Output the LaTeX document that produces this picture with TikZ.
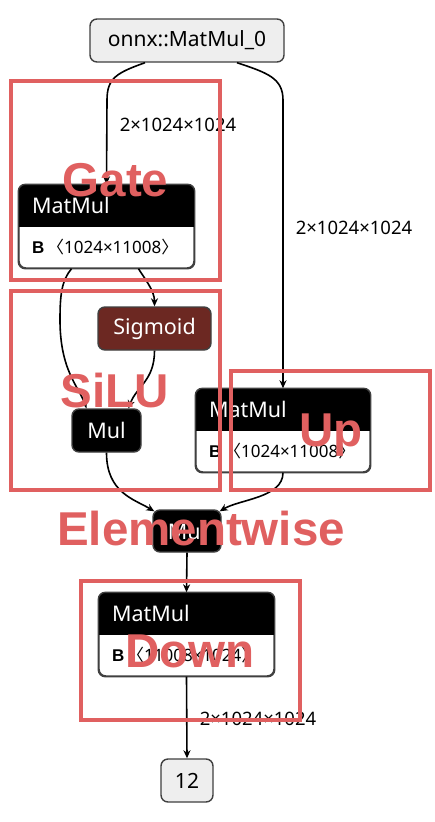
\documentclass[tikz,border=0pt]{standalone}
\usepackage{fontspec}
\setmainfont{Noto Sans}
\newfontfamily\cjkf{Noto Sans CJK SC}
\newfontfamily\redf{Liberation Sans}
\newfontfamily\bfb{Liberation Sans}
\usetikzlibrary{arrows.meta}
\definecolor{redbox}{RGB}{224,96,96}
\definecolor{sigc}{RGB}{108,40,34}
\definecolor{grayfill}{RGB}{238,238,238}
\definecolor{bordc}{RGB}{64,64,64}
\newcommand\mmdraw[3]{%
  \begin{scope}
    \clip[rounded corners=7] (#1.south west) rectangle (#1.north east);
    \fill[black] (#1.north west) rectangle ([yshift=-43]#1.north east);
  \end{scope}
  \draw[bordc, line width=1.4, rounded corners=7] (#1.south west) rectangle (#1.north east);
  \node[hdrt, anchor=west] (#1h) at ([xshift=13.5,yshift=-21.5]#1.north west) {#2};
  \node[bodyt, anchor=west] (#1b) at ([xshift=13.5,yshift=-63]#1.north west) {#3};
}
\newcommand\bodytext[1]{{\bfb\bfseries B}\,{\cjkf 〈}#1{\cjkf 〉}}
\begin{document}
\begin{tikzpicture}[x=1pt,y=-1pt,
  io/.style={draw=bordc, fill=grayfill, rounded corners=7, line width=1.4, inner sep=0,
    font=\fontsize{21}{21}\selectfont},
  blk/.style={draw=bordc, fill=black, text=white, rounded corners=7, line width=1.4, inner sep=0,
    font=\fontsize{21.5}{21.5}\selectfont},
  mm/.style={draw=bordc, fill=white, rounded corners=7, line width=1.4, inner sep=0,
    minimum width=175, minimum height=83},
  hdrt/.style={text=white, inner sep=0, font=\fontsize{21.5}{21.5}\selectfont},
  bodyt/.style={inner sep=0, font=\fontsize{17}{17}\selectfont},
  edge/.style={line width=1.6, -{Stealth[length=8,width=7,inset=2.5]}},
  lbl/.style={inner sep=0, font=\fontsize{18.5}{18.5}\selectfont},
  redbx/.style={draw=redbox, line width=4},
  redtxt/.style={text=redbox, inner sep=0, anchor=base, font=\redf\bfseries\fontsize{47.5}{47.5}\selectfont}
]
\useasboundingbox (0,0) rectangle (434,822);
\fill[white] (0,0) rectangle (434,822);

% nodes
\node[io, minimum width=194, minimum height=43] (top) at (187,40.5) {onnx::MatMul\_0};
\node[mm] (gate) at (106.5,226.5) {};
\mmdraw{gate}{MatMul}{\bodytext{1024×11008}}
\node[blk, fill=sigc, minimum width=113, minimum height=43] (sig) at (154.5,328.5) {Sigmoid};
\node[blk, minimum width=69, minimum height=43] (mul) at (106.5,430.5) {Mul};
\node[mm, minimum width=174] (up) at (283,430.5) {};
\mmdraw{up}{MatMul}{\bodytext{1024×11008}}
\node[blk, minimum width=68, minimum height=42] (ew) at (187,531) {Mul};
\node[mm] (down) at (186.5,634.5) {};
\mmdraw{down}{MatMul}{\bodytext{11008×1024}}
\node[io, minimum width=52, minimum height=43] (out) at (187,780.5) {12};

% edges
\draw[edge] ([xshift=-42]top.south) .. controls +(-28,10) and +(0,-22) .. (107,100) -- (gate.north);
\draw[edge] ([xshift=50]top.south) .. controls +(30,10) and +(0,-22) .. (283,100) -- (up.north);
\draw[edge] ([xshift=32]gate.south) .. controls +(6,10) and +(0,-16) .. (sig.north);
\draw[edge] ([xshift=-35]gate.south) .. controls +(-10,12) and +(0,-25) .. (60,320)
  .. controls +(0,50) and +(-8,-22) .. ([xshift=-20]mul.north);
\draw[edge] (sig.south) .. controls +(0,30) and +(8,-22) .. ([xshift=22]mul.north);
\draw[edge] (mul.south) .. controls +(0,40) and +(-20,-12) .. ([xshift=2,yshift=-2]ew.north west);
\draw[edge] (up.south) .. controls +(0,25) and +(20,-12) .. ([xshift=-2,yshift=-2]ew.north east);
\draw[edge] (ew.south) -- (down.north);
\draw[edge] (down.south) -- (out.north);

% labels
\node[lbl] (l1) at (178,125) {2×1024×1024};
\node[lbl] (l2) at (354,228) {2×1024×1024};
\node[lbl] (l3) at (258,719) {2×1024×1024};

% red annotations
\draw[redbx] (11,81) rectangle (220,280);
\draw[redbx] (11,291) rectangle (220,489.5);
\draw[redbx] (231,371) rectangle (430,489.5);
\draw[redbx] (80.5,581) rectangle (300,720);
\node[redtxt] (tgate) at (115.5,196) {Gate};
\node[redtxt] (tsilu) at (115,407) {SiLU};
\node[redtxt] (tup) at (331,446) {Up};
\node[redtxt] (tew) at (201,545) {Elementwise};
\node[redtxt] (tdown) at (190,667) {Down};
\end{tikzpicture}
\end{document}
